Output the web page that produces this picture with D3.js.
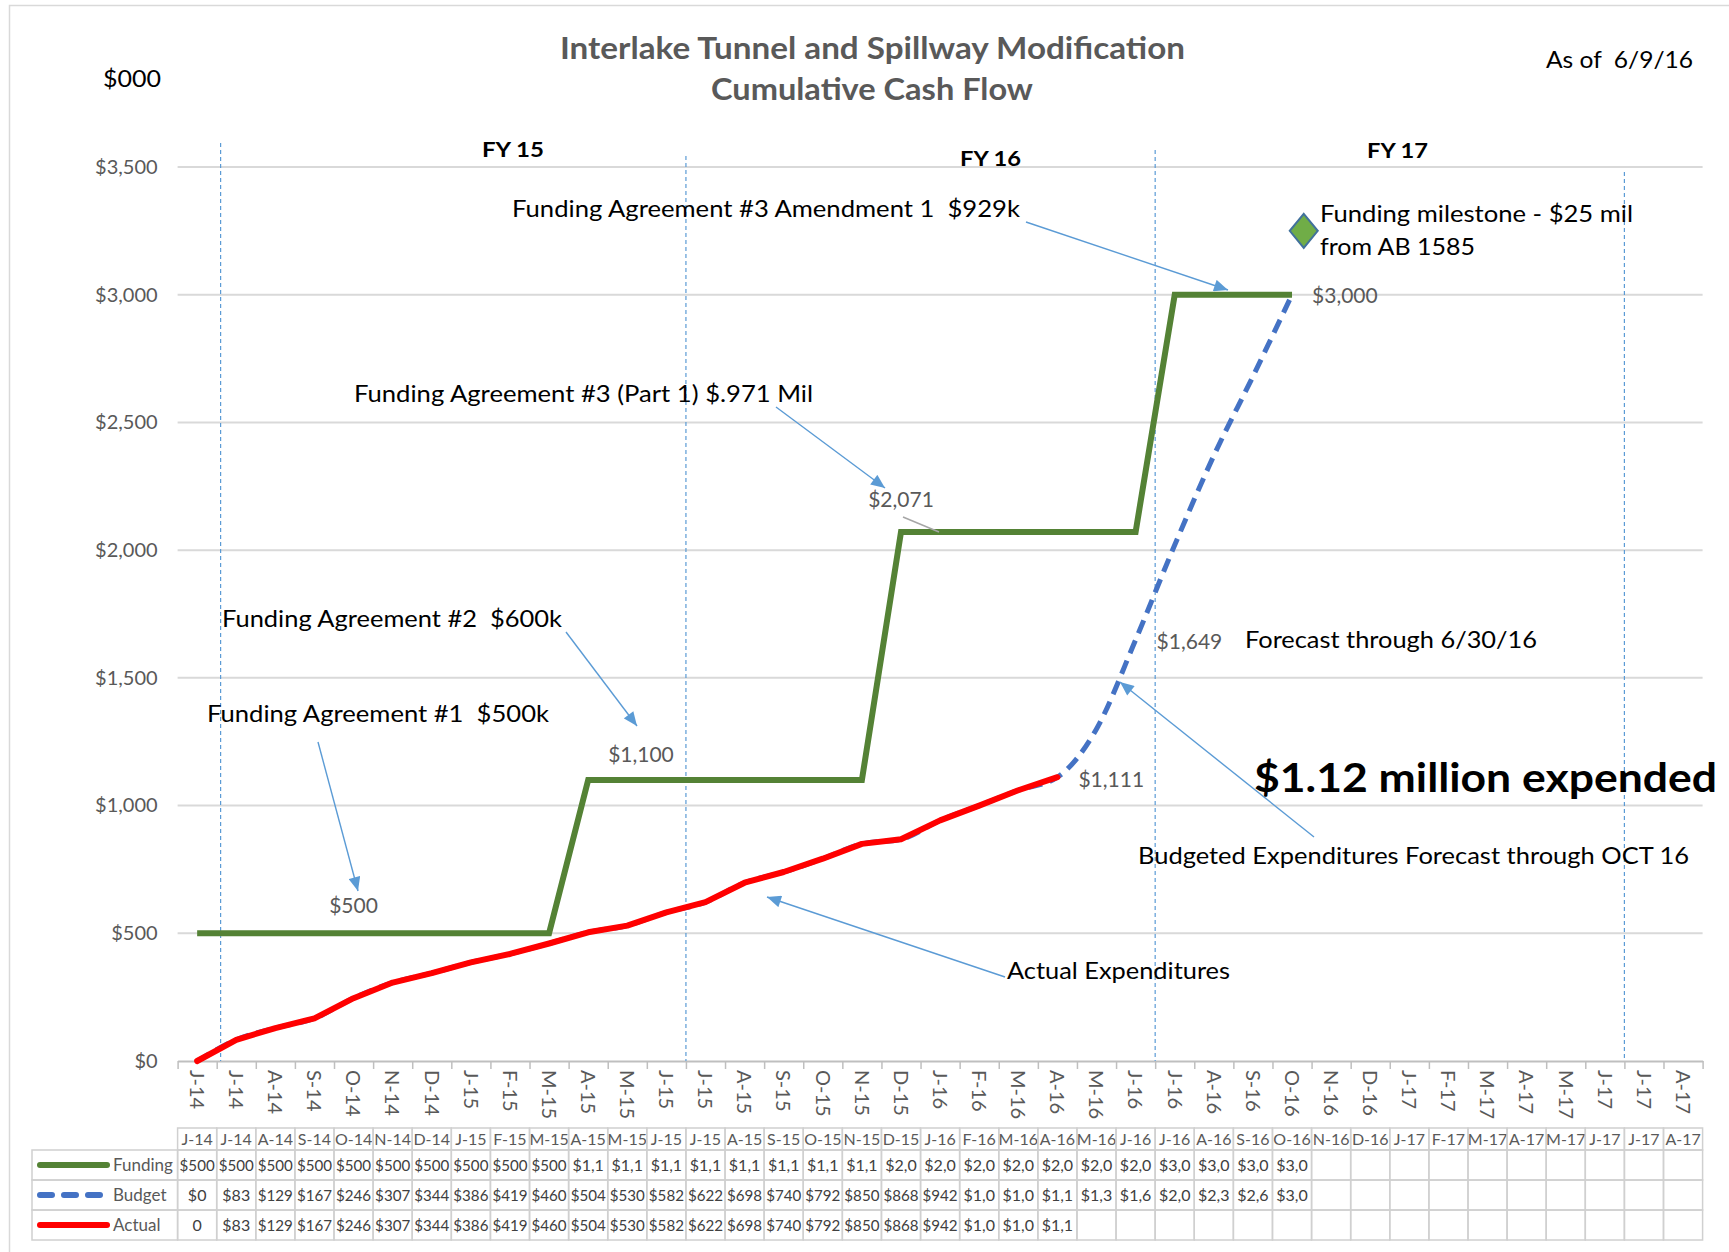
<!DOCTYPE html>
<html>
<head>
<meta charset="utf-8">
<script src="https://cdn.jsdelivr.net/npm/d3@7"></script>
<style>
  body { margin: 0; background: #fff; }
  svg text { font-family: Lato, "Open Sans", sans-serif; white-space: pre; }
</style>
</head>
<body>
<svg id="chart"></svg>
<script>
// monthly categories, Jun 2014 .. Aug 2017
var months = ["J-14","J-14","A-14","S-14","O-14","N-14","D-14",
  "J-15","F-15","M-15","A-15","M-15","J-15","J-15","A-15","S-15","O-15","N-15","D-15",
  "J-16","F-16","M-16","A-16","M-16","J-16","J-16","A-16","S-16","O-16","N-16","D-16",
  "J-17","F-17","M-17","A-17","M-17","J-17","J-17","A-17"];

// cumulative $000
var funding = [500,500,500,500,500,500,500,500,500,500,
  1100,1100,1100,1100,1100,1100,1100,1100,
  2071,2071,2071,2071,2071,2071,2071,
  3000,3000,3000,3000];
var budget = [0,83,129,167,246,307,344,386,419,460,504,530,582,622,698,740,792,850,868,942,
  1000,1060,1111,1300,1649,2020,2370,2680,3000];
var actual = [0,83,129,167,246,307,344,386,419,460,504,530,582,622,698,740,792,850,868,942,
  1000,1060,1111];

var yTicks = [0,500,1000,1500,2000,2500,3000,3500];
var fyNames = ["FY 15","FY 16","FY 17"];
var fyBreaks = [1.1, 13, 25, 37];        // month index where a fiscal year starts
var milestone = {i: 28.3, v: 3250};

var W = 1729, H = 1252;
var svg = d3.select("#chart").attr("width", W).attr("height", H);

var plotLeft = 177.6, plotRight = 1702.6, plotTop = 167, plotBottom = 1061;
var x = d3.scaleLinear().domain([-0.5, months.length - 0.5]).range([plotLeft, plotRight]);
var bw = x(1) - x(0);
var y = d3.scaleLinear().domain([0, 3500]).range([plotBottom, plotTop]);
var money = function(v){ return "$" + d3.format(",")(v); };

var GRAY = "#595959", ARROW = "#5B9BD5";
var GREEN = "#548235", BLUE = "#4472C4", RED = "#FF0000";

// outer frame
svg.append("rect").attr("x", 9.5).attr("y", 5.5).attr("width", 1760).attr("height", 1300)
  .attr("fill", "none").attr("stroke", "#D9D9D9").attr("stroke-width", 1.5);

// arrow head
svg.append("defs").append("marker")
  .attr("id", "head").attr("markerUnits", "userSpaceOnUse")
  .attr("viewBox", "0 0 14 12").attr("refX", 14).attr("refY", 6)
  .attr("markerWidth", 15).attr("markerHeight", 12).attr("orient", "auto")
  .append("path").attr("d", "M0,0L14,6L0,12Z").attr("fill", ARROW);

// text helper: fit to a measured width
function put(g, t, x0, x1, base, size, opts) {
  opts = opts || {};
  return g.append("text").attr("x", x0).attr("y", base)
    .attr("font-size", size).attr("font-weight", opts.bold ? "bold" : null)
    .attr("fill", opts.fill || "#000")
    .attr("textLength", x1 - x0).attr("lengthAdjust", "spacingAndGlyphs")
    .text(t);
}

// gridlines
svg.append("g").selectAll("line").data(yTicks.filter(function(d){ return d > 0; }))
  .enter().append("line")
  .attr("x1", plotLeft).attr("x2", plotRight)
  .attr("y1", function(d){ return y(d); }).attr("y2", function(d){ return y(d); })
  .attr("stroke", "#D9D9D9").attr("stroke-width", 2);

// y axis labels
var yAxis = svg.append("g").attr("transform", "translate(" + plotLeft + ",0)")
  .call(d3.axisLeft(y).tickValues(yTicks).tickSize(0).tickPadding(20).tickFormat(money));
yAxis.select(".domain").remove();
yAxis.selectAll("text").attr("font-size", 20).attr("fill", GRAY).attr("font-family", null);

// category axis with ticks between months
var xAxis = svg.append("g").attr("transform", "translate(0," + plotBottom + ")")
  .call(d3.axisBottom(x).tickValues(d3.range(-0.5, months.length, 1))
    .tickSize(8).tickSizeOuter(0).tickFormat(""));
xAxis.select(".domain").attr("stroke", "#BFBFBF").attr("stroke-width", 2);
xAxis.selectAll(".tick line").attr("stroke", "#BFBFBF").attr("stroke-width", 1.5);

svg.append("g").selectAll("text").data(months).enter().append("text")
  .attr("transform", function(d, i){ return "translate(" + x(i) + ",1070) rotate(90)"; })
  .attr("dy", "0.36em").attr("font-size", 20).attr("fill", GRAY)
  .text(function(d){ return d; });

// fiscal year dividers
var fyTops = [143, 156, 150, 172];
svg.append("g").selectAll("line").data(fyBreaks).enter().append("line")
  .attr("x1", function(d){ return x(d - 0.5); }).attr("x2", function(d){ return x(d - 0.5); })
  .attr("y1", function(d, i){ return fyTops[i]; }).attr("y2", plotBottom)
  .attr("stroke", ARROW).attr("stroke-width", 1.2).attr("stroke-dasharray", "4 3");

var fyPos = [[482, 544, 157], [960, 1021, 166], [1367, 1428, 158]];
fyNames.forEach(function(n, i){
  put(svg, n, fyPos[i][0], fyPos[i][1], fyPos[i][2], 21, {bold: true});
});

// series
var line = d3.line().x(function(d, i){ return x(i); }).y(function(d){ return y(d); });

svg.append("path").attr("d", line.curve(d3.curveMonotoneX)(budget))
  .attr("fill", "none").attr("stroke", BLUE).attr("stroke-width", 5)
  .attr("stroke-dasharray", "14 8");
svg.append("path").attr("d", line.curve(d3.curveLinear)(funding))
  .attr("fill", "none").attr("stroke", GREEN).attr("stroke-width", 6);
svg.append("path").attr("d", line.curve(d3.curveLinear)(actual))
  .attr("fill", "none").attr("stroke", RED).attr("stroke-width", 6)
  .attr("stroke-linejoin", "round").attr("stroke-linecap", "round");

// milestone diamond
var mx = x(milestone.i), my = y(milestone.v);
svg.append("path")
  .attr("d", d3.line()([[mx, my - 17], [mx + 14, my], [mx, my + 17], [mx - 14, my]]) + "Z")
  .attr("fill", "#70AD47").attr("stroke", "#41719C").attr("stroke-width", 2);

// data labels
var dataLabels = [
  {i: 4, v: 500, dx: 0, dy: -20, anchor: "middle"},
  {i: 11.35, v: 1100, dx: 0, dy: -18, anchor: "middle"},
  {i: 18, v: 2071, dx: 0, dy: -25, anchor: "middle"},
  {i: 28, v: 3000, dx: 20, dy: 8, anchor: "start"},
  {i: 22, v: 1111, dx: 21, dy: 10, anchor: "start"},
  {i: 24, v: 1649, dx: 21, dy: 9, anchor: "start"}
];
svg.append("g").selectAll("text").data(dataLabels).enter().append("text")
  .attr("x", function(d){ return x(d.i) + d.dx; })
  .attr("y", function(d){ return y(d.v) + d.dy; })
  .attr("text-anchor", function(d){ return d.anchor; })
  .attr("font-size", 21).attr("fill", GRAY)
  .text(function(d){ return money(d.v); });

// leader from $2,071 label
svg.append("line")
  .attr("x1", x(18) + 2).attr("y1", y(2071) - 15)
  .attr("x2", x(18) + 38).attr("y2", y(2071))
  .attr("stroke", "#A6A6A6").attr("stroke-width", 1.5);

// titles
put(svg, "Interlake Tunnel and Spillway Modification", 560, 1185, 59, 31, {bold: true, fill: GRAY});
put(svg, "Cumulative Cash Flow", 711, 1033, 100, 31, {bold: true, fill: GRAY});
put(svg, "$000", 103, 161, 87, 24);
put(svg, "As of  6/9/16", 1546, 1693, 68, 23);

// annotations
var notes = [
  ["Funding Agreement #3 Amendment 1  $929k", 512, 1020, 217],
  ["Funding milestone - $25 mil", 1320, 1633, 222],
  ["from AB 1585", 1320, 1475, 255],
  ["Funding Agreement #3 (Part 1) $.971 Mil", 354, 813, 402],
  ["Funding Agreement #2  $600k", 222, 562, 627],
  ["Funding Agreement #1  $500k", 207, 549, 722],
  ["Forecast through 6/30/16", 1245, 1537, 648],
  ["Budgeted Expenditures Forecast through OCT 16", 1138, 1689, 864],
  ["Actual Expenditures", 1007, 1230, 979]
];
notes.forEach(function(n){ put(svg, n[0], n[1], n[2], n[3], 23); });
put(svg, "$1.12 million expended", 1254, 1717, 792, 40, {bold: true});

var arrows = [
  [1026, 222, 1228, 290],
  [776, 407, 885, 488],
  [566, 632, 637, 726],
  [318, 742, 358, 891],
  [1005, 977, 767, 897],
  [1314, 837, 1120, 682]
];
svg.append("g").selectAll("line").data(arrows).enter().append("line")
  .attr("x1", function(d){ return d[0]; }).attr("y1", function(d){ return d[1]; })
  .attr("x2", function(d){ return d[2]; }).attr("y2", function(d){ return d[3]; })
  .attr("stroke", ARROW).attr("stroke-width", 1.4).attr("marker-end", "url(#head)");

// data table
var rows = [
  {name: "Funding", values: funding, color: GREEN, dash: null},
  {name: "Budget", values: budget, color: BLUE, dash: "12 12"},
  {name: "Actual", values: actual, color: RED, dash: null}
];
var headTop = 1128, headH = 22, rowTop = 1150, rowH = 30, tableLeft = 32;
var cellFmt = function(v, row){
  if (v === 0 && row === "Actual") return "0";
  return money(v).slice(0, 4);
};
var tbl = svg.append("g");
var cellStroke = "#D0D0D0";

months.forEach(function(m, i){
  tbl.append("rect").attr("x", x(i - 0.5)).attr("y", headTop).attr("width", bw).attr("height", headH)
    .attr("fill", "none").attr("stroke", cellStroke).attr("stroke-width", 1.5);
  tbl.append("text").attr("x", x(i)).attr("y", headTop + 17).attr("text-anchor", "middle")
    .attr("font-size", 16).attr("fill", GRAY).text(m);
});

rows.forEach(function(r, k){
  var top = rowTop + k * rowH;
  tbl.append("rect").attr("x", tableLeft).attr("y", top).attr("width", plotLeft - tableLeft).attr("height", rowH)
    .attr("fill", "none").attr("stroke", cellStroke).attr("stroke-width", 1.5);
  tbl.append("line").attr("x1", 40).attr("x2", 107).attr("y1", top + rowH / 2).attr("y2", top + rowH / 2)
    .attr("stroke", r.color).attr("stroke-width", 6).attr("stroke-linecap", "round")
    .attr("stroke-dasharray", r.dash);
  tbl.append("text").attr("x", 113).attr("y", top + 21).attr("font-size", 17).attr("fill", GRAY).text(r.name);
  months.forEach(function(m, i){
    tbl.append("rect").attr("x", x(i - 0.5)).attr("y", top).attr("width", bw).attr("height", rowH)
      .attr("fill", "none").attr("stroke", cellStroke).attr("stroke-width", 1.5);
  });
  tbl.selectAll(null).data(r.values).enter().append("text")
    .attr("x", function(d, i){ return x(i); }).attr("y", top + 21)
    .attr("text-anchor", "middle").attr("font-size", 16).attr("fill", "#404040")
    .text(function(d){ return cellFmt(d, r.name); })
    .each(function(){
      if (this.getComputedTextLength() > bw - 4) {
        d3.select(this).attr("textLength", bw - 4).attr("lengthAdjust", "spacingAndGlyphs");
      }
    });
});
</script>
</body>
</html>
